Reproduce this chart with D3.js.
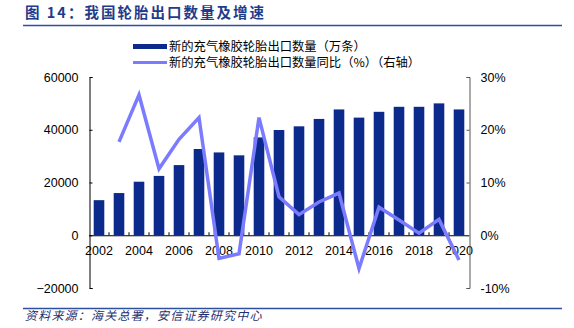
<!DOCTYPE html>
<html><head><meta charset="utf-8">
<script src="https://cdn.jsdelivr.net/npm/d3@7"></script>
<style>body{margin:0;background:#fff}svg{display:block}</style>
</head><body>
<svg id="c" width="574" height="328"></svg>
<script>
const years = [2002,2003,2004,2005,2006,2007,2008,2009,2010,2011,2012,2013,2014,2015,2016,2017,2018,2019,2020];
const exports_ = [13300,16000,20300,22500,26600,32700,31400,30300,37100,39900,41300,44100,47700,44600,46800,48700,48700,50000,47700];
const growth = [null,17.7,26.6,12.6,18.2,22.3,-4.4,-3.5,22.3,7.3,3.9,6.3,8.0,-6.3,5.3,2.9,0.4,3.0,-4.7];
const leftTicks = [-20000,0,20000,40000,60000];
const rightTicks = [-10,0,10,20,30];
const xLabels = [2002,2004,2006,2008,2010,2012,2014,2016,2018,2020];
const legendNames = ["新的充气橡胶轮胎出口数量（万条）","新的充气橡胶轮胎出口数量同比（%）（右轴）"];

const svg = d3.select("#c");
const font = "'Liberation Sans', Arial, sans-serif";
const cjk = "'Noto Sans CJK SC', sans-serif";
const barColor = "#0c2a8c", lineColor = "#7b7bff", blue = "#2d4fa0";

// title
svg.append("text").attr("x",25).attr("y",18).attr("font-family",cjk).attr("font-weight","bold")
  .attr("font-size",14.5).attr("letter-spacing",2).attr("fill","#1f3c8c").text("图 14：我国轮胎出口数量及增速");
svg.append("line").attr("x1",23).attr("x2",562).attr("y1",25.5).attr("y2",25.5).attr("stroke",blue).attr("stroke-width",1.5);
svg.append("line").attr("x1",23).attr("x2",562).attr("y1",308.5).attr("y2",308.5).attr("stroke",blue).attr("stroke-width",1.5);
svg.append("text").attr("x",25).attr("y",320).attr("font-family",cjk).attr("font-style","italic")
  .attr("font-size",12).attr("letter-spacing",1.2).attr("fill","#1f2f6f").text("资料来源：海关总署，安信证券研究中心");

const x = d3.scaleBand().domain(years).range([89,469]).paddingInner(0.47).paddingOuter(0.235);
const yL = d3.scaleLinear().domain([-20000,60000]).range([288,77]);
const yR = d3.scaleLinear().domain([-10,30]).range([288,77]);

// bars
svg.append("g").selectAll("rect").data(years).join("rect")
  .attr("x",d=>x(d)).attr("width",x.bandwidth())
  .attr("y",(d,i)=>yL(exports_[i])).attr("height",(d,i)=>yL(0)-yL(exports_[i]))
  .attr("fill",barColor);

// x axis
const xa = svg.append("g");
xa.append("line").attr("x1",89).attr("x2",469).attr("y1",yL(0)+0.5).attr("y2",yL(0)+0.5).attr("stroke","#000");
const bounds = d3.range(1,years.length).map(i=>89 + i*(380/years.length));
xa.selectAll("line.t").data(bounds).join("line").attr("class","t")
  .attr("x1",d=>d).attr("x2",d=>d).attr("y1",yL(0)).attr("y2",yL(0)-3).attr("stroke","#000");
xa.selectAll("text").data(xLabels).join("text")
  .attr("x",d=>x(d)+x.bandwidth()/2).attr("y",yL(0)+20).attr("text-anchor","middle")
  .attr("font-family",font).attr("font-size",12.5).attr("fill","#000").text(d=>d);

// left axis
const la = svg.append("g").attr("transform","translate(89.5,0)")
  .call(d3.axisLeft(yL).tickValues(leftTicks).tickSize(-3).tickPadding(11).tickFormat(d3.format("d")));
la.select(".domain").attr("stroke","#000");
la.selectAll("text").attr("font-family",font).attr("font-size",12.5).attr("fill","#000");
la.selectAll(".tick line").attr("stroke","#000");

// right axis
const ra = svg.append("g").attr("transform","translate(469.5,0)")
  .call(d3.axisRight(yR).tickValues(rightTicks).tickSize(-3).tickPadding(11).tickFormat(d=>d+"%"));
ra.select(".domain").attr("stroke","#555");
ra.selectAll("text").attr("font-family",font).attr("font-size",12.5).attr("fill","#000");
ra.selectAll(".tick line").attr("stroke","#555");

// line
const line = d3.line().defined(d=>d.v!=null).x(d=>x(d.y)+x.bandwidth()/2).y(d=>yR(d.v));
svg.append("path").datum(years.map((y,i)=>({y,v:growth[i]})))
  .attr("d",line).attr("fill","none").attr("stroke",lineColor).attr("stroke-width",3.5).attr("stroke-linejoin","miter");

// legend
const lg = svg.append("g");
lg.append("rect").attr("x",133).attr("y",44).attr("width",34).attr("height",5).attr("fill",barColor);
lg.append("line").attr("x1",133).attr("x2",167).attr("y1",62.5).attr("y2",62.5).attr("stroke",lineColor).attr("stroke-width",3);
lg.selectAll("text").data(legendNames).join("text")
  .attr("x",169).attr("y",(d,i)=>50.5+i*16.5).attr("font-family",cjk).attr("font-size",12.3).attr("fill","#000").text(d=>d);
</script>
</body></html>
